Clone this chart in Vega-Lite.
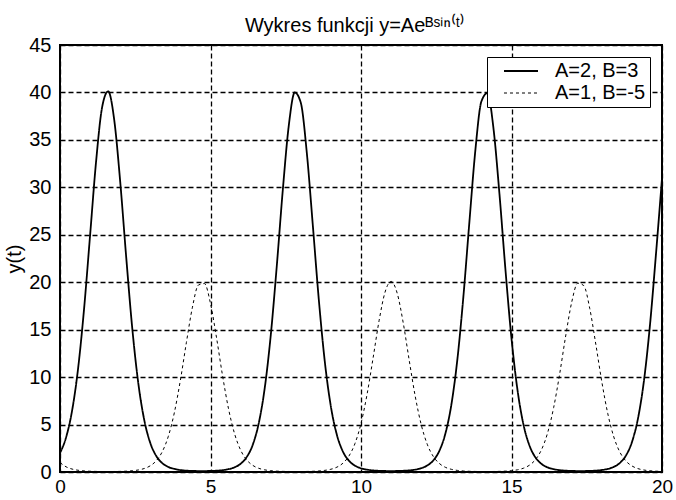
{
 "$schema": "https://vega.github.io/schema/vega-lite/v6.json",
 "width": 602,
 "height": 427,
 "autosize": {"type": "none"},
 "padding": {"left": 60, "top": 45, "right": 14, "bottom": 28},
 "background": "white",
 "title": {"text": "Wykres funkcji y=Aeᴮˢⁱⁿ⁽ᵗ⁾", "font": "Liberation Sans", "fontSize": 20, "fontWeight": "normal", "color": "black", "offset": 2, "baseline": "bottom", "dx": -6, "dy": 23},
 "data": {"values": [
  {"t":0,"a":2,"b":1},{"t":0.2,"a":3.630,"b":0.551},{"t":0.4,"a":6.433,"b":0.311},{"t":0.6,"a":10.882,"b":0.184},{"t":0.8,"a":17.206,"b":0.116},
  {"t":1.0,"a":24.967,"b":0.080},{"t":1.2,"a":32.762,"b":0.061},{"t":1.4,"a":38.455,"b":0.052},{"t":1.6,"a":40.119,"b":0.050},{"t":1.8,"a":37.140,"b":0.054},
  {"t":2.0,"a":30.601,"b":0.065},{"t":2.2,"a":22.616,"b":0.088},{"t":2.4,"a":15.173,"b":0.132},{"t":2.6,"a":9.390,"b":0.213},{"t":2.8,"a":5.464,"b":0.366},
  {"t":3.0,"a":3.054,"b":0.655},{"t":3.2,"a":1.679,"b":1.191},{"t":3.4,"a":0.929,"b":2.152},{"t":3.6,"a":0.530,"b":3.772},{"t":3.8,"a":0.319,"b":6.269},
  {"t":4.0,"a":0.207,"b":9.683},{"t":4.2,"a":0.146,"b":13.664},{"t":4.4,"a":0.115,"b":17.371},{"t":4.6,"a":0.101,"b":19.709},{"t":4.8,"a":0.101,"b":19.856},
  {"t":5.0,"a":0.113,"b":17.757},{"t":5.2,"a":0.141,"b":14.159},{"t":5.4,"a":0.197,"b":10.158},{"t":5.6,"a":0.301,"b":6.645},{"t":5.8,"a":0.496,"b":4.030},
  {"t":6.0,"a":0.865,"b":2.312},{"t":6.2,"a":1.559,"b":1.283},{"t":6.4,"a":2.837,"b":0.705},{"t":6.6,"a":5.093,"b":0.393},{"t":6.8,"a":8.806,"b":0.227},
  {"t":7.0,"a":14.355,"b":0.139},{"t":7.2,"a":21.632,"b":0.092},{"t":7.4,"a":29.644,"b":0.067},{"t":7.6,"a":36.485,"b":0.055},{"t":7.8,"a":39.995,"b":0.050},
  {"t":8.0,"a":38.909,"b":0.051},{"t":8.2,"a":33.627,"b":0.059},{"t":8.4,"a":25.970,"b":0.077},{"t":8.6,"a":18.108,"b":0.110},{"t":8.8,"a":11.564,"b":0.173},
  {"t":9.0,"a":6.886,"b":0.290},{"t":9.2,"a":3.903,"b":0.512},{"t":9.4,"a":2.154,"b":0.928},{"t":9.6,"a":1.186,"b":1.687},{"t":9.8,"a":0.666,"b":3.002},
  {"t":10.0,"a":0.391,"b":5.114},{"t":10.2,"a":0.245,"b":8.163},{"t":10.4,"a":0.167,"b":11.983},{"t":10.6,"a":0.126,"b":15.932},{"t":10.8,"a":0.105,"b":18.969},
  {"t":11.0,"a":0.100,"b":20.085},{"t":11.2,"a":0.106,"b":18.869},{"t":11.4,"a":0.127,"b":15.769},{"t":11.6,"a":0.169,"b":11.805},{"t":11.8,"a":0.250,"b":8.007},
  {"t":12.0,"a":0.400,"b":5.001},{"t":12.2,"a":0.683,"b":2.929},{"t":12.4,"a":1.215,"b":1.646},{"t":12.6,"a":2.212,"b":0.904},{"t":12.8,"a":4.006,"b":0.499},
  {"t":13.0,"a":7.054,"b":0.284},{"t":13.2,"a":11.815,"b":0.169},{"t":13.4,"a":18.435,"b":0.108},{"t":13.6,"a":26.310,"b":0.076},{"t":13.8,"a":33.928,"b":0.059},
  {"t":14.0,"a":39.055,"b":0.051},{"t":14.2,"a":39.934,"b":0.050},{"t":14.4,"a":36.239,"b":0.055},{"t":14.6,"a":29.298,"b":0.068},{"t":14.8,"a":21.283,"b":0.094},
  {"t":15.0,"a":14.070,"b":0.142},{"t":15.2,"a":8.625,"b":0.232},{"t":15.4,"a":4.965,"b":0.403},{"t":15.6,"a":2.763,"b":0.724},{"t":15.8,"a":1.518,"b":1.317},
  {"t":16.0,"a":0.843,"b":2.372},{"t":16.2,"a":0.485,"b":4.126},{"t":16.4,"a":0.295,"b":6.782},{"t":16.6,"a":0.194,"b":10.330},{"t":16.8,"a":0.140,"b":14.335},
  {"t":17.0,"a":0.112,"b":17.889},{"t":17.2,"a":0.101,"b":19.900},{"t":17.4,"a":0.102,"b":19.647},{"t":17.6,"a":0.116,"b":17.228},{"t":17.8,"a":0.148,"b":13.485},
  {"t":18.0,"a":0.210,"b":9.516},{"t":18.2,"a":0.326,"b":6.138},{"t":18.4,"a":0.543,"b":3.683},{"t":18.6,"a":0.953,"b":2.098},{"t":18.8,"a":1.724,"b":1.160},
  {"t":19.0,"a":3.136,"b":0.638},{"t":19.2,"a":5.602,"b":0.357},{"t":19.4,"a":9.607,"b":0.208},{"t":19.6,"a":15.472,"b":0.129},{"t":19.8,"a":22.969,"b":0.087},
  {"t":20.0,"a":30.938,"b":0.065}
 ]},
 "transform": [{"fold": ["a", "b"], "as": ["series", "y"]}],
 "mark": {"type": "line", "interpolate": "monotone", "color": "black", "clip": true},
 "encoding": {
  "x": {"field": "t", "type": "quantitative", "scale": {"domain": [0, 20], "nice": false, "zero": false},
        "axis": {"values": [0, 5, 10, 15, 20], "title": null, "labelPadding": 5, "labelFontSize": 19, "labelFlush": false, "labelOverlap": false}},
  "y": {"field": "y", "type": "quantitative", "scale": {"domain": [0, 45], "nice": false},
        "axis": {"values": [0, 5, 10, 15, 20, 25, 30, 35, 40, 45], "title": "y(t)", "titlePadding": 4, "labelPadding": 9, "labelFlush": false, "labelOverlap": false}},
  "strokeDash": {"field": "series", "type": "nominal", "scale": {"domain": ["a", "b"], "range": [[1, 0], [3, 3]]},
        "legend": {"title": null, "orient": "top-right", "offset": 12, "labelExpr": "datum.value == 'a' ? 'A=2, B=3' : 'A=1, B=-5'"}},
  "strokeWidth": {"field": "series", "type": "nominal", "scale": {"domain": ["a", "b"], "range": [1.8, 1]},
        "legend": {"title": null, "orient": "top-right", "offset": 12, "labelExpr": "datum.value == 'a' ? 'A=2, B=3' : 'A=1, B=-5'"}}
 },
 "config": {
  "font": "Liberation Sans",
  "view": {"stroke": "black", "strokeWidth": 2},
  "axis": {"grid": true, "gridColor": "black", "gridDash": [5, 3], "gridWidth": 1.3, "gridOpacity": 1, "domain": false, "ticks": false,
           "labelFont": "Liberation Sans", "labelFontSize": 20, "labelColor": "black",
           "titleFont": "Liberation Sans", "titleFontSize": 20, "titleFontWeight": "normal", "titleColor": "black"},
  "legend": {"strokeColor": "black", "fillColor": "white", "padding": 4, "symbolType": "M-5.667,0H5.667", "symbolSize": 36,
             "symbolStrokeColor": "black", "symbolOffset": 20, "labelOffset": 24, "rowPadding": 2,
             "labelFont": "Liberation Sans", "labelFontSize": 20, "labelColor": "black", "labelLimit": 400}
 }
}
